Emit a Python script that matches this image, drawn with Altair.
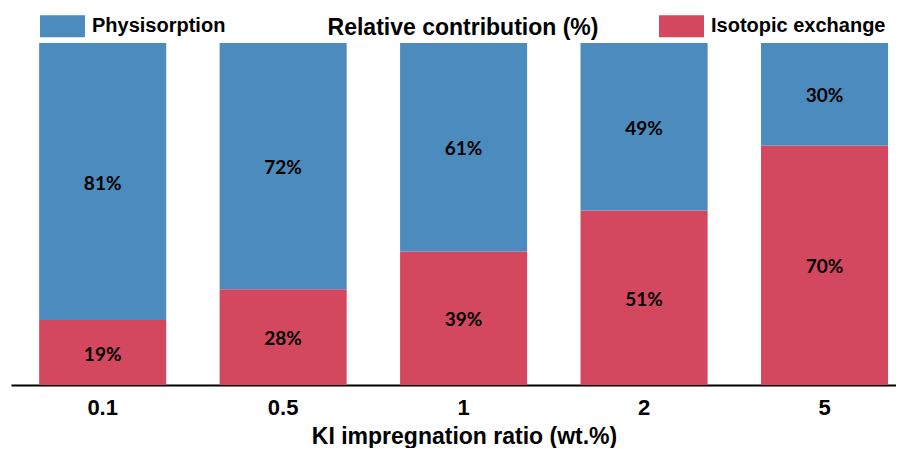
import altair as alt
import pandas as pd

ratios = ["0.1", "0.5", "1", "2", "5"]
physisorption = [81, 72, 61, 49, 30]
isotopic = [19, 28, 39, 51, 70]
components = ["Physisorption", "Isotopic exchange"]
colors = ["#4C8BBE", "#D3475F"]
chart_title = "Relative contribution (%)"

ARIAL = "Liberation Sans, Arial, Helvetica, sans-serif"

rows = []
for r, p, i in zip(ratios, physisorption, isotopic):
    rows.append({"ratio": r, "component": "Isotopic exchange", "value": i, "ord": 0, "label": f"{i}%"})
    rows.append({"ratio": r, "component": "Physisorption", "value": p, "ord": 1, "label": f"{p}%"})
df = pd.DataFrame(rows)

base = alt.Chart(df).transform_stack(
    stack="value", groupby=["ratio"], as_=["y0", "y1"], sort=[alt.SortField("ord")]
).transform_calculate(mid="(datum.y0 + datum.y1) / 2")

yscale = alt.Scale(domain=[0, 100], nice=False)
xaxis = alt.Axis(title="KI impregnation ratio (wt.%)", titleX=453, titleAlign="center")

bars = base.mark_bar().encode(
    x=alt.X(
        "ratio:N",
        sort=ratios,
        scale=alt.Scale(paddingInner=0.296, paddingOuter=0.1, align=0.78),
        axis=xaxis,
    ),
    y=alt.Y("y0:Q", scale=yscale, axis=None),
    y2="y1:Q",
    color=alt.Color(
        "component:N",
        scale=alt.Scale(domain=components, range=colors),
        legend=alt.Legend(
            title=None,
            orient="none",
            legendX=29,
            legendY=-39.5,
            direction="horizontal",
            symbolType="M-1,-0.49H1V0.49H-1Z",
            symbolSize=2025,
            symbolStrokeWidth=0,
            symbolOpacity=1,
            labelOffset=7,
            labelLimit=0,
            columnPadding=433,
        ),
    ),
)

texts = base.mark_text(font="Lato", fontWeight="bold", fontSize=19, color="black", dy=2).encode(
    x=alt.X("ratio:N", sort=ratios, axis=xaxis),
    y=alt.Y("mid:Q", scale=yscale, axis=None),
    text="label:N",
)

title_df = pd.DataFrame({"t": [chart_title]})
title = alt.Chart(title_df).mark_text(
    font=ARIAL, fontWeight="bold", fontSize=23, color="black", baseline="middle", align="center"
).encode(x=alt.value(452), y=alt.value(-15), text="t:N")

chart = (
    alt.layer(bars, texts, title)
    .properties(
        width=885,
        height=342,
        autosize=alt.AutoSizeParams(type="none"),
        padding={"left": 3, "top": 35, "right": 0, "bottom": 63},
    )
    .configure_view(stroke=None)
    .configure_axis(
        grid=False,
        labelAngle=0,
        labelFont=ARIAL,
        labelFontWeight="bold",
        labelFontSize=22,
        labelColor="black",
        labelPadding=12,
        ticks=False,
        domainColor="black",
        domainWidth=2,
        titleFont=ARIAL,
        titleFontWeight="bold",
        titleFontSize=23,
        titleColor="black",
        titlePadding=7,
    )
    .configure_legend(
        labelFont=ARIAL,
        labelFontWeight="bold",
        labelFontSize=20,
        labelColor="black",
    )
)

chart.save("out.html", embed_options={"renderer": "svg", "actions": False})
